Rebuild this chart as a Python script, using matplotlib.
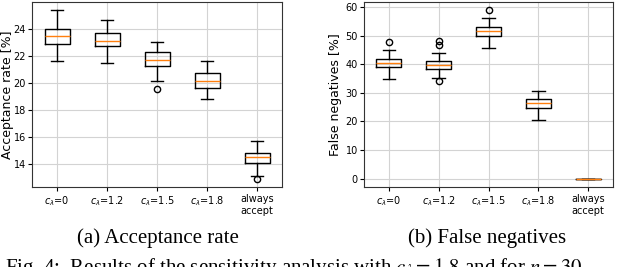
import matplotlib
matplotlib.use("Agg")
import matplotlib.pyplot as plt

categories = [r"$c_\lambda$=0", r"$c_\lambda$=1.2", r"$c_\lambda$=1.5", r"$c_\lambda$=1.8", "always\naccept"]

# Acceptance rate [%]
acc_whislo = [21.62, 21.43, 20.13, 18.83, 13.14]
acc_q1     = [22.85, 22.70, 21.23, 19.61, 14.10]
acc_med    = [23.49, 23.12, 21.72, 20.13, 14.54]
acc_q3     = [24.00, 23.71, 22.24, 20.76, 14.81]
acc_whishi = [25.35, 24.61, 23.02, 21.62, 15.72]
acc_fliers = [[], [], [19.54], [], [12.92]]

# False negatives [%]
fn_whislo = [34.8, 35.3, 45.5, 20.5, 0.0]
fn_q1     = [38.9, 38.3, 49.8, 24.8, 0.0]
fn_med    = [40.3, 39.7, 51.6, 26.5, 0.0]
fn_q3     = [41.9, 41.1, 52.9, 27.9, 0.0]
fn_whishi = [44.8, 44.0, 56.2, 30.6, 0.0]
fn_fliers = [[47.6], [48.0, 46.6, 34.0], [58.8], [], []]


def stats(lo, q1, med, q3, hi, fl):
    return [dict(whislo=a, q1=b, med=c, q3=d, whishi=e, fliers=f, label=lab)
            for a, b, c, d, e, f, lab in zip(lo, q1, med, q3, hi, fl, categories)]


fig = plt.figure(figsize=(6.4, 2.67), dpi=100)
ax1 = fig.add_axes([32/640, 1-187/267, 250/640, 185/267])
ax2 = fig.add_axes([364/640, 1-187/267, 249/640, 185/267])

flierprops = dict(marker='o', markerfacecolor='none', markeredgecolor='black', markersize=4.5)
for ax, st, lab, lx in [
    (ax1, stats(acc_whislo, acc_q1, acc_med, acc_q3, acc_whishi, acc_fliers), "Acceptance rate [%]", -0.072),
    (ax2, stats(fn_whislo, fn_q1, fn_med, fn_q3, fn_whishi, fn_fliers), "False negatives [%]", -0.088),
]:
    ax.bxp(st, showfliers=True, flierprops=flierprops,
           medianprops=dict(color='#ff7f0e', linewidth=1.0),
           boxprops=dict(linewidth=1.0), whiskerprops=dict(linewidth=1.0),
           capprops=dict(linewidth=1.0))
    ax.grid(True, color='#d3d3d3', linewidth=0.8)
    ax.set_axisbelow(True)
    ax.set_ylabel(lab, fontsize=9)
    ax.yaxis.set_label_coords(lx, 0.5)
    ax.tick_params(axis='y', labelsize=7, length=3, pad=1.5)
    ax.tick_params(axis='x', labelsize=7, length=3, pad=2)
    for s in ax.spines.values():
        s.set_color('#333333')

ax1.set_yticks([14, 16, 18, 20, 22, 24])
ax2.set_yticks([0, 10, 20, 30, 40, 50, 60])

serif = ['Liberation Serif', 'DejaVu Serif']
fig.text(158/640, 1-242.5/267, "(a) Acceptance rate", ha='center', va='baseline',
         fontsize=15, family=serif)
fig.text(487/640, 1-242.5/267, "(b) False negatives", ha='center', va='baseline',
         fontsize=15, family=serif)
fig.text(5/640, 1-273/267, "Fig. 4:  Results of the sensitivity analysis with $c_\\lambda = 1.8$ and for $n = 30$",
         ha='left', va='baseline', fontsize=15, family=serif, math_fontfamily='stix')

fig.savefig("out.png", dpi=100)
